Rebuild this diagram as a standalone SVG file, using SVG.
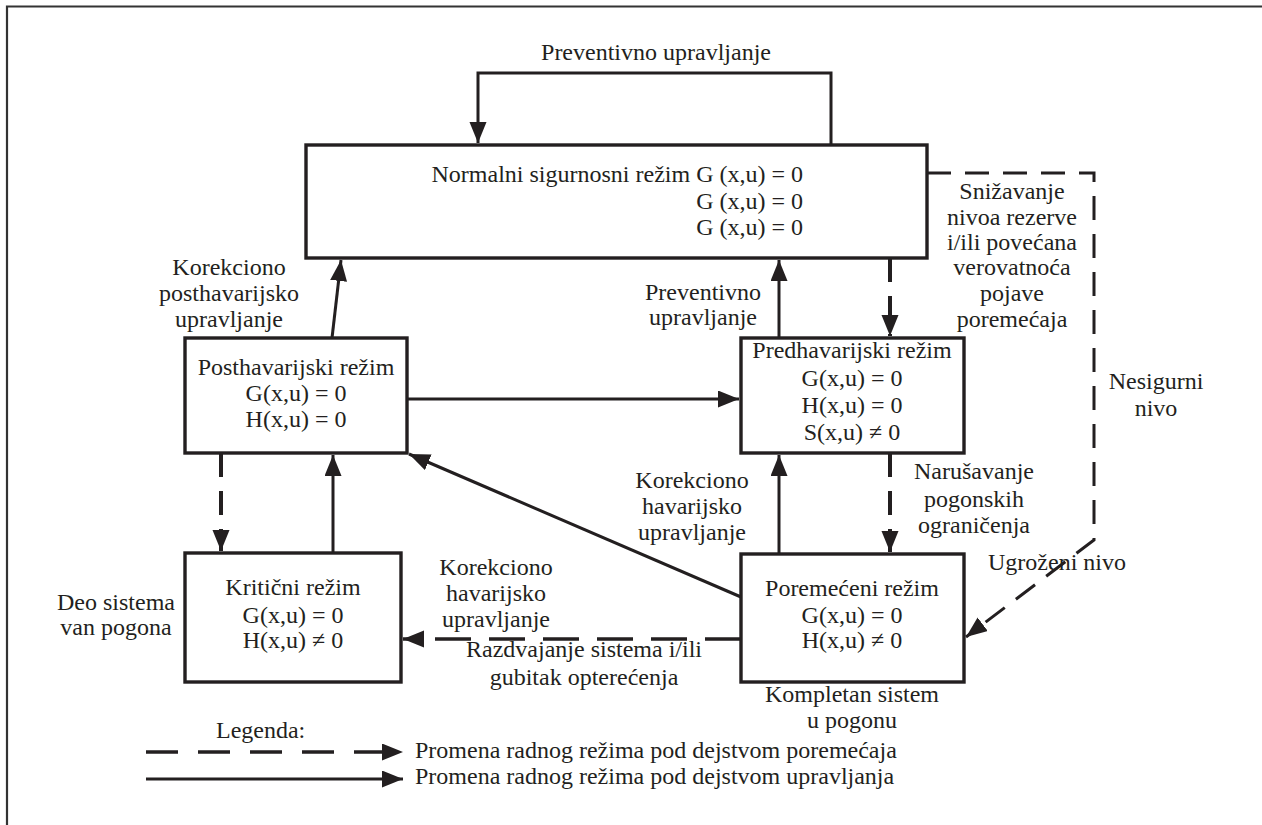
<svg xmlns="http://www.w3.org/2000/svg" width="1262" height="825" viewBox="0 0 1262 825" font-family="'Liberation Serif', 'DejaVu Serif', serif">
<style>
text{font-family:'Liberation Serif','DejaVu Serif',serif;font-size:24px;fill:#231f20}
.c{text-anchor:middle}
.e{text-anchor:end}
.box{fill:#fff;stroke:#231f20;stroke-width:3.4}
.sol{fill:none;stroke:#231f20;stroke-width:3}
.das{fill:none;stroke:#231f20;stroke-width:3.4;stroke-dasharray:24 14}
</style>
<defs>
<marker id="ah" markerUnits="userSpaceOnUse" markerWidth="22" markerHeight="18" refX="21" refY="8.5" orient="auto">
<path d="M0,0 L21,8.5 L0,17 z" fill="#231f20"/>
</marker>
</defs>
<rect width="1262" height="825" fill="#fff"/>
<path d="M7,825 V6.5 H1262" fill="none" stroke="#333" stroke-width="2.2"/>

<g id="connectors">
<path class="sol" d="M831,145 V73 H478 V143" marker-end="url(#ah)"/>
<path class="sol" d="M332,338 L341,260" marker-end="url(#ah)"/>
<path class="sol" d="M779,338 V260" marker-end="url(#ah)"/>
<path class="das" d="M890,258 V336" marker-end="url(#ah)" style="stroke-width:4"/>
<path class="sol" d="M407,399 H739" marker-end="url(#ah)"/>
<path class="sol" d="M779,554 V455" marker-end="url(#ah)"/>
<path class="das" d="M890,453 V552" marker-end="url(#ah)" style="stroke-width:4"/>
<path class="das" d="M221,453 V551" marker-end="url(#ah)" style="stroke-width:4"/>
<path class="sol" d="M333,553 V455" marker-end="url(#ah)"/>
<path class="sol" d="M741,597 L409,454" marker-end="url(#ah)"/>
<path class="das" d="M741,639 H403" marker-end="url(#ah)" style="stroke-dasharray:36 18"/>
<path class="das" d="M927,173 H1094 V540 L966,637" marker-end="url(#ah)" style="stroke-width:3"/>
<path class="das" d="M146,752 H403" marker-end="url(#ah)" style="stroke-dasharray:32 20"/>
<path class="sol" d="M146,779 H403" marker-end="url(#ah)"/>
</g>

<g id="normal">
<rect class="box" x="306" y="145" width="621" height="113"/>
<text class="e" x="803" y="182">Normalni sigurnosni režim G (x,u) = 0</text>
<text class="e" x="803" y="209">G (x,u) = 0</text>
<text class="e" x="803" y="235">G (x,u) = 0</text>
</g>

<g id="posthavarijski">
<rect class="box" x="185" y="338" width="222" height="115"/>
<text class="c" x="296" y="375">Posthavarijski režim</text>
<text class="c" x="296" y="401">G(x,u) = 0</text>
<text class="c" x="296" y="427">H(x,u) = 0</text>
</g>

<g id="predhavarijski">
<rect class="box" x="741" y="338" width="223" height="115"/>
<text class="c" x="852" y="358">Predhavarijski režim</text>
<text class="c" x="852" y="386">G(x,u) = 0</text>
<text class="c" x="852" y="413">H(x,u) = 0</text>
<text class="c" x="852" y="440">S(x,u) ≠ 0</text>
</g>

<g id="kriticni">
<rect class="box" x="185" y="553" width="216" height="129"/>
<text class="c" x="293" y="595">Kritični režim</text>
<text class="c" x="293" y="623">G(x,u) = 0</text>
<text class="c" x="293" y="648">H(x,u) ≠ 0</text>
</g>

<g id="poremeceni">
<rect class="box" x="741" y="554" width="223" height="128"/>
<text class="c" x="852" y="596">Poremećeni režim</text>
<text class="c" x="852" y="623">G(x,u) = 0</text>
<text class="c" x="852" y="648">H(x,u) ≠ 0</text>
</g>

<g id="labels">
<text class="c" x="656" y="60">Preventivno upravljanje</text>
<text class="c" x="229" y="275">Korekciono</text>
<text class="c" x="229" y="301">posthavarijsko</text>
<text class="c" x="229" y="327">upravljanje</text>
<text class="c" x="703" y="300">Preventivno</text>
<text class="c" x="703" y="325">upravljanje</text>
<text class="c" x="1012" y="199">Snižavanje</text>
<text class="c" x="1012" y="225">nivoa rezerve</text>
<text class="c" x="1012" y="250">i/ili povećana</text>
<text class="c" x="1012" y="275">verovatnoća</text>
<text class="c" x="1012" y="301">pojave</text>
<text class="c" x="1012" y="327">poremećaja</text>
<text class="c" x="1156" y="389">Nesigurni</text>
<text class="c" x="1156" y="416">nivo</text>
<text class="c" x="692" y="488">Korekciono</text>
<text class="c" x="692" y="514">havarijsko</text>
<text class="c" x="692" y="540">upravljanje</text>
<text class="c" x="974" y="479">Narušavanje</text>
<text class="c" x="974" y="507">pogonskih</text>
<text class="c" x="974" y="533">ograničenja</text>
<text class="c" x="1057" y="570">Ugroženi nivo</text>
<text class="c" x="116" y="610">Deo sistema</text>
<text class="c" x="116" y="635">van pogona</text>
<text class="c" x="496" y="575">Korekciono</text>
<text class="c" x="496" y="601">havarijsko</text>
<text class="c" x="496" y="627">upravljanje</text>
<text class="c" x="584" y="657">Razdvajanje sistema i/ili</text>
<text class="c" x="584" y="685">gubitak opterećenja</text>
<text class="c" x="852" y="702">Kompletan sistem</text>
<text class="c" x="852" y="728">u pogonu</text>
<text x="216" y="738">Legenda:</text>
<text x="415" y="758">Promena radnog režima pod dejstvom poremećaja</text>
<text x="415" y="784">Promena radnog režima pod dejstvom upravljanja</text>
</g>
</svg>
